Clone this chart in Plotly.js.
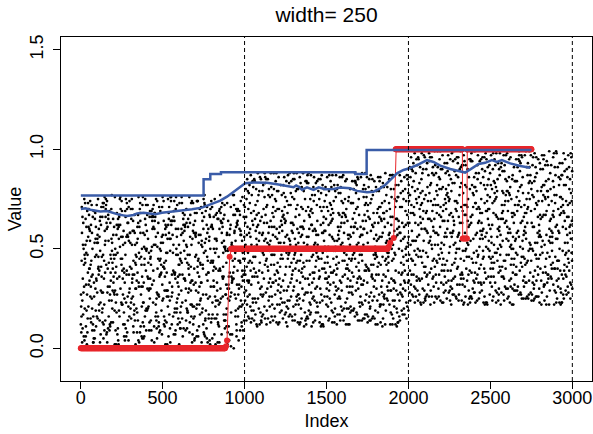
<!DOCTYPE html>
<html>
<head>
<meta charset="utf-8">
<script src="https://cdn.plot.ly/plotly-3.0.1.min.js"></script>
<style>html,body{margin:0;padding:0;background:#fff}#chart{width:593px;height:434px}</style>
</head>
<body>
<div id="chart"></div>
<script>
// ---- Data: scatter values in hundredths, one table of 25 rows x 40 per segment (read column-wise) ----
const segmentStart = [0, 1000, 2000];
const tableRows = 25, tableCols = 40;
const seg1 = [
12,45,67,3,28,71,54,9,36,60,22,75,41,17,63,5,49,30,68,11,57,26,74,38,2,65,19,52,33,70,8,44,61,24,77,14,50,35,6,59,
27,73,40,16,55,1,66,31,47,10,69,23,58,37,4,72,20,46,64,13,53,29,76,7,42,62,18,34,56,0,48,25,71,15,39,67,32,51,9,74,
21,43,60,3,57,36,70,12,28,65,45,6,53,19,76,31,50,14,68,26,41,2,62,35,73,10,47,22,58,17,66,38,5,55,30,72,11,44,63,24,
8,52,34,69,15,46,75,27,61,4,39,56,20,67,33,13,59,42,1,71,25,48,64,9,37,54,18,74,29,43,7,60,23,50,68,14,36,77,32,57,
16,65,40,5,53,28,72,11,45,62,22,37,0,58,31,76,19,49,66,8,41,55,26,70,13,35,61,3,47,24,73,38,17,54,64,10,30,51,69,21,
44,6,59,33,75,18,42,63,27,2,56,39,70,14,48,23,67,9,52,36,74,29,12,60,45,1,65,34,20,57,77,15,43,68,25,50,4,38,62,31,
71,11,54,26,40,66,7,47,19,61,35,73,23,52,3,58,30,69,16,44,64,21,37,76,10,49,28,55,6,42,72,17,60,33,0,51,24,67,39,13,
58,32,74,9,46,20,63,38,2,55,27,70,15,43,61,5,36,66,22,50,12,75,31,47,18,59,40,7,68,25,53,1,44,29,71,14,57,35,64,11,
3,48,26,69,41,13,60,34,76,19,52,8,65,30,45,23,72,4,56,37,16,62,28,50,10,67,42,21,74,33,6,54,39,17,63,27,46,0,70,36,
24,61,15,53,37,73,8,45,29,66,12,57,40,2,68,33,20,51,75,9,43,26,64,18,48,35,1,59,22,71,14,56,31,65,7,49,38,77,16,54,
66,19,42,5,60,28,74,13,50,36,1,63,25,47,70,11,55,32,18,69,40,6,57,23,44,62,30,73,9,52,15,67,34,3,58,27,46,72,20,39,
10,54,31,65,22,47,3,70,38,16,59,26,75,42,8,51,35,64,14,45,29,68,0,56,21,61,37,12,74,33,49,4,66,24,53,17,60,41,27,76,
35,2,62,46,19,71,28,55,9,67,40,14,52,30,73,6,43,60,25,37,11,65,48,20,57,34,76,15,41,3,69,26,50,13,63,32,7,58,44,22,
52,27,13,68,39,5,61,24,47,75,18,56,33,1,64,42,21,70,10,49,36,58,16,72,29,45,8,62,38,54,19,66,31,12,73,43,26,59,4,48,
17,69,44,30,56,12,40,77,23,51,6,63,35,20,58,45,0,67,28,53,14,71,39,25,60,9,47,32,74,18,55,2,41,65,36,11,62,27,50,34,
63,8,36,55,14,73,31,49,2,62,38,21,70,46,11,57,29,66,5,42,60,17,52,33,76,24,13,58,44,68,27,50,7,39,61,20,71,45,30,9,
28,47,72,19,64,35,10,53,41,76,25,4,59,34,68,16,48,23,74,38,2,55,66,12,43,30,63,21,6,51,37,70,15,46,26,57,1,67,32,45,
50,15,25,61,3,44,67,20,57,30,12,71,37,53,27,65,9,39,51,19,62,33,7,47,73,14,56,40,28,64,10,43,75,22,35,58,18,48,69,5,
6,38,58,11,49,22,65,43,18,70,33,54,26,8,46,75,30,61,40,1,57,24,69,36,15,52,67,4,45,20,62,31,55,11,41,73,28,16,60,37,
42,73,20,35,66,9,54,29,62,45,4,37,64,18,31,50,13,72,27,56,44,10,38,60,23,70,33,16,53,42,5,61,26,69,48,2,36,54,21,66,
31,56,9,47,23,76,16,40,68,1,53,28,11,61,42,19,66,34,58,7,29,49,74,15,37,63,22,5,57,40,71,13,48,3,65,30,52,19,44,72,
75,21,50,34,7,59,43,13,27,56,69,16,44,38,6,62,25,52,16,71,48,3,64,31,58,20,41,68,11,27,46,74,21,60,36,8,53,25,67,14,
4,61,37,72,29,52,1,65,35,23,47,74,8,55,21,39,69,11,45,32,61,76,18,42,6,51,29,64,36,12,58,44,2,70,17,49,33,61,9,56,
47,32,66,16,62,38,24,57,7,42,66,30,59,14,50,72,35,3,63,24,13,55,37,27,68,10,73,46,22,60,34,15,67,40,54,25,7,70,43,28,
20,70,12,53,41,14,69,33,48,74,10,58,22,67,36,9,45,60,27,76,38,64,20,52,1,43,16,57,31,75,3,62,40,23,51,64,34,12,57,39];
const seg2 = [
45,78,23,61,14,86,52,33,70,19,64,41,88,27,57,12,75,38,49,82,30,67,16,55,73,25,44,84,36,60,13,79,47,21,68,39,87,29,58,17,
71,34,62,11,50,83,26,66,43,77,18,54,31,80,40,15,69,24,85,48,35,72,20,59,87,42,28,63,14,76,53,37,81,22,65,46,12,74,32,56,
24,58,81,36,13,67,49,88,29,62,41,17,75,53,30,84,22,60,45,12,71,38,79,26,51,64,19,83,47,34,72,15,57,86,27,43,66,20,78,39,
63,15,46,74,31,55,21,80,38,69,13,52,85,27,61,44,18,77,35,58,86,23,49,67,14,40,73,29,56,82,16,62,37,71,25,48,87,11,54,33,
37,82,19,50,66,28,76,42,12,59,84,33,47,22,70,56,87,14,39,63,26,81,51,17,68,35,45,78,21,60,40,85,30,13,74,57,24,65,43,80,
52,27,69,88,16,44,35,61,79,23,48,72,14,58,36,83,28,53,75,11,46,64,31,86,20,57,38,70,49,15,66,24,79,42,61,33,52,18,84,29,
18,73,40,25,57,85,13,47,32,66,21,78,55,39,88,16,62,30,50,71,43,19,76,34,58,12,84,41,26,67,81,35,54,22,44,73,15,60,37,69,
80,44,14,62,38,71,54,20,86,45,29,63,17,81,24,52,70,41,13,66,33,56,87,25,48,74,31,18,61,39,23,77,46,65,12,85,34,57,27,50,
29,60,85,33,79,12,64,37,53,15,74,26,48,67,43,87,11,59,36,80,21,70,42,14,63,55,27,82,35,72,50,16,68,31,88,22,45,76,19,62,
66,21,51,77,26,45,88,16,70,34,57,84,40,12,60,28,46,83,23,54,69,13,37,78,44,20,65,52,86,17,39,61,24,81,49,58,30,13,71,47,
14,56,36,68,48,19,31,75,58,82,11,43,66,25,79,35,62,18,71,40,51,87,29,61,16,76,47,33,57,24,85,42,12,64,36,55,80,27,49,74,
75,39,84,20,58,63,42,27,13,49,68,35,22,86,53,15,77,44,30,59,14,65,46,81,37,28,73,17,50,88,26,68,41,56,19,70,34,13,63,23,
41,87,25,54,17,72,81,56,35,67,24,59,79,44,11,71,33,57,85,26,62,38,12,52,75,45,19,60,32,80,14,47,70,28,53,87,21,76,38,15,
57,13,65,39,82,30,47,69,22,78,45,16,52,33,64,83,25,48,16,74,36,55,80,21,67,39,58,86,23,42,65,31,18,73,45,12,59,82,26,51,
22,68,46,79,27,53,16,84,61,29,87,37,70,13,41,56,68,23,62,43,79,18,54,33,84,12,36,71,47,64,20,55,86,34,77,29,48,64,17,87,
85,32,17,58,70,41,61,34,18,53,20,76,43,61,27,88,38,72,11,51,29,68,40,63,23,57,80,35,14,73,50,26,63,11,42,66,24,38,79,44,
34,52,72,12,47,85,26,74,41,86,31,63,26,83,50,19,59,31,78,35,87,45,17,74,49,31,61,14,88,39,21,84,55,46,69,18,75,50,30,67,
61,19,59,43,35,15,77,50,28,65,47,14,88,56,18,67,47,84,27,59,15,33,82,29,66,52,20,85,44,27,73,15,37,58,25,80,33,61,55,21,
26,77,38,86,63,39,22,88,53,23,72,58,34,20,75,32,13,64,45,81,57,74,25,66,12,80,48,30,57,76,14,63,43,83,54,29,71,16,46,85,
79,43,23,30,54,77,68,13,45,71,16,39,80,47,35,60,81,21,69,38,25,49,61,86,40,18,68,53,22,41,87,34,79,15,31,62,47,24,75,37,
48,15,80,64,21,58,33,60,82,17,55,85,24,71,14,44,26,52,87,16,73,39,57,19,70,34,84,43,64,17,59,45,27,68,81,35,12,58,42,63,
16,64,55,18,76,24,47,39,25,63,83,29,60,38,84,23,74,46,12,65,41,82,30,53,47,21,61,75,32,86,28,51,71,22,48,76,39,87,20,53,
70,36,12,49,88,33,57,79,64,37,48,21,72,15,51,66,35,18,58,77,32,13,68,44,85,56,16,39,80,58,42,19,66,37,24,50,82,14,61,33,
43,84,67,27,42,80,14,55,31,76,24,62,44,81,28,37,86,57,40,22,63,54,78,36,20,73,45,67,15,33,75,48,84,26,63,17,56,71,34,78,
33,25,52,85,15,61,71,22,47,56,88,45,13,61,69,17,52,79,24,49,84,27,43,68,31,61,88,23,52,69,36,12,56,81,29,44,65,28,86,19];
const seg3 = [
56,89,34,72,25,98,61,43,80,29,75,52,93,38,67,23,86,47,59,95,40,78,27,65,84,35,54,97,46,70,24,91,57,31,79,49,99,39,68,28,
82,44,73,22,60,94,36,77,53,88,29,64,41,92,50,26,81,33,96,58,45,83,30,69,98,52,37,74,25,87,63,47,93,32,76,56,23,85,42,66,
34,68,92,46,24,78,59,99,39,73,51,27,86,63,40,95,33,71,55,23,82,48,90,36,61,75,29,94,57,44,83,26,67,97,37,53,77,30,89,49,
74,26,56,85,41,65,31,91,48,80,24,62,96,37,72,54,28,88,45,69,97,33,59,78,25,50,84,39,66,93,27,73,47,82,35,58,98,22,64,43,
47,93,29,60,77,38,87,52,23,70,95,43,57,32,81,66,99,25,49,74,36,92,61,27,79,45,55,89,31,71,50,96,40,24,85,67,34,76,53,91,
63,37,80,98,26,54,45,72,90,33,58,83,24,69,46,94,38,64,86,22,56,75,41,97,30,68,48,81,59,25,77,34,90,52,72,43,62,28,95,39,
28,84,50,35,68,96,23,57,42,77,31,89,66,49,99,26,73,40,60,82,53,29,87,44,69,22,95,51,36,78,92,45,65,32,54,84,25,71,47,80,
91,54,24,73,48,82,65,30,97,56,39,74,27,92,34,63,81,51,23,77,43,67,98,35,58,85,41,28,72,49,33,88,56,76,22,96,44,68,37,61,
39,71,96,43,90,22,75,47,64,25,85,36,58,78,53,98,23,70,46,91,31,81,52,24,74,66,37,93,45,83,61,26,79,41,99,32,55,87,29,73,
77,31,62,88,36,56,99,26,81,44,68,95,50,22,71,38,57,94,33,65,80,23,47,89,54,30,76,63,97,27,49,72,34,92,60,69,40,23,82,58,
24,67,46,79,59,29,41,86,69,93,22,53,77,35,90,45,73,28,82,50,62,98,39,72,26,87,58,43,68,34,96,53,22,75,46,66,91,37,60,85,
86,49,95,30,69,74,52,37,23,60,79,45,32,97,64,25,88,55,40,70,24,76,57,92,47,38,84,27,61,99,36,79,51,67,29,81,44,23,74,33,
52,98,35,65,27,83,92,67,45,78,34,70,90,55,22,82,43,68,96,36,73,48,22,63,86,56,29,71,42,91,24,58,81,38,64,98,31,87,48,25,
68,23,76,49,93,40,58,80,32,89,56,26,63,44,75,94,35,59,26,85,46,66,91,31,78,50,69,97,33,53,76,41,28,84,56,22,70,93,36,62,
32,79,57,90,37,64,26,95,72,39,98,48,81,23,52,67,79,33,73,54,90,28,65,44,95,22,47,82,58,75,30,66,97,45,88,40,59,75,27,98,
96,42,27,69,81,52,72,45,28,64,30,87,54,72,37,99,49,83,22,62,40,79,51,74,34,68,91,46,25,84,61,37,74,22,53,77,35,49,90,55,
45,63,83,23,58,96,37,85,52,97,42,74,37,94,61,30,70,42,89,46,98,56,28,85,60,42,72,25,99,50,32,95,66,57,80,29,86,61,41,78,
72,30,70,54,46,26,88,61,39,76,58,25,99,67,29,78,58,95,38,70,26,44,93,40,77,63,31,96,55,38,84,26,48,69,36,91,44,72,66,32,
37,88,49,97,74,50,33,99,64,34,83,69,45,31,86,43,24,75,56,92,68,85,36,77,23,91,59,41,68,87,25,74,54,94,65,40,82,27,57,96,
90,54,34,41,65,88,79,24,56,82,27,50,91,58,46,71,92,32,80,49,36,60,72,97,51,29,79,64,33,52,98,45,90,26,42,73,58,35,86,48,
59,26,91,75,32,69,44,71,93,28,66,96,35,82,25,55,37,63,98,27,84,50,68,30,81,45,95,54,75,28,70,56,38,79,92,46,23,69,53,74,
27,75,66,29,87,35,58,50,36,74,94,40,71,49,95,34,85,57,23,76,52,93,41,64,58,32,72,86,43,97,39,62,82,33,59,87,50,98,31,64,
81,47,23,60,99,44,68,90,75,48,59,32,83,26,62,77,46,29,69,88,43,24,79,55,96,67,27,50,91,69,53,30,77,48,35,61,93,25,72,44,
54,95,78,38,53,91,25,66,42,87,35,73,55,92,39,48,97,68,51,33,74,65,89,47,31,84,56,78,26,44,86,59,95,37,74,28,67,82,45,89,
44,36,63,96,26,72,82,33,58,67,99,56,24,72,80,28,63,90,35,60,95,38,54,79,42,72,99,34,63,80,47,23,67,92,40,55,76,39,97,30];

// Red estimate: constant runs plus transition points
const redRunFrom = [1, 918, 1922, 2359];
const redRunTo   = [880, 1872, 2329, 2750];
const redRunVal  = [0, 0.5, 1.0, 1.0];
const redStepX = [887, 893, 909, 1880, 1889, 1910, 2331, 2337, 2344, 2351, 2357];
const redStepY = [0.01, 0.04, 0.46, 0.51, 0.53, 0.554, 0.552, 0.552, 0.552, 0.552, 0.552];

// Upper blue line (step)
const upX = [1, 750, 791, 856, 1676, 1745, 2750];
const upY = [0.768, 0.849, 0.876, 0.884, 0.876, 0.997, 0.997];

// Lower blue line
const loX = [1,29,59,90,120,161,201,232,260,283,323,344,384,420,456,496,557,618,679,740,791,852,893,933,974,1004,1055,1137,1198,1259,1299,1315,1330,1350,1381,1421,1452,1492,1543,1584,1645,1686,1747,1787,1828,1858,1899,1930,1970,2011,2062,2113,2153,2194,2255,2316,2346,2387,2428,2468,2509,2540,2570,2621,2682,2743];
const loY = [0.70,0.704,0.696,0.69,0.687,0.69,0.679,0.672,0.668,0.665,0.67,0.678,0.681,0.676,0.674,0.681,0.686,0.692,0.699,0.707,0.724,0.742,0.762,0.787,0.812,0.829,0.833,0.832,0.824,0.816,0.809,0.818,0.812,0.797,0.809,0.796,0.809,0.799,0.800,0.808,0.804,0.791,0.784,0.787,0.804,0.821,0.854,0.879,0.896,0.906,0.924,0.946,0.936,0.918,0.901,0.888,0.883,0.904,0.926,0.932,0.946,0.937,0.946,0.929,0.916,0.907];

const breakpoints = [1000, 2000, 3000];
const xTicks = [0, 500, 1000, 1500, 2000, 2500, 3000];
const yTicks = [0, 0.5, 1.0, 1.5];
const yTickText = ['0.0', '0.5', '1.0', '1.5'];

// ---- Build traces ----
const px = [], py = [];
[seg1, seg2, seg3].forEach((arr, k) => arr.forEach((v, j) => {
  const r = Math.floor(j / tableCols), c = j % tableCols;   // table cell -> index within segment
  px.push(segmentStart[k] + c * tableRows + r + 1); py.push(v / 100);
}));

const redPts = [];
redRunFrom.forEach((f, k) => { for (let i = f; i <= redRunTo[k]; i += 3) redPts.push([i, redRunVal[k]]); redPts.push([redRunTo[k], redRunVal[k]]); });
redStepX.forEach((x, k) => redPts.push([x, redStepY[k]]));
redPts.sort((a, b) => a[0] - b[0]);

const FONT = 'Liberation Sans, Arial, Helvetica, sans-serif';
const blue = '#3a5ca8', red = '#e8262b';

const traces = [
  {x: px, y: py, type: 'scatter', mode: 'markers', marker: {size: 2.7, color: '#000'}, hoverinfo: 'skip'},
  {x: redPts.map(p => p[0]), y: redPts.map(p => p[1]), type: 'scatter', mode: 'lines+markers',
   line: {color: red, width: 1}, marker: {size: 6, color: red}},
  {x: upX, y: upY, type: 'scatter', mode: 'lines', line: {color: blue, width: 2.5, shape: 'hv'}},
  {x: loX, y: loY, type: 'scatter', mode: 'lines', line: {color: blue, width: 2.5}}
];

const layout = {
  width: 593, height: 434,
  margin: {l: 61, r: 1, t: 37, b: 53, pad: 0},
  paper_bgcolor: '#fff', plot_bgcolor: '#fff',
  showlegend: false,
  font: {family: FONT, color: '#000', size: 18},
  title: {text: 'width= 250', font: {family: FONT, size: 21, color: '#000'}, x: 0.5, xref: 'paper', y: 1 - 15/434, yref: 'container', yanchor: 'middle'},
  xaxis: {range: [-120, 3120], tickvals: xTicks, ticktext: xTicks.map(String), ticks: 'outside', ticklen: 7, tickcolor: '#000',
          showline: true, mirror: true, linecolor: '#000', linewidth: 1, showgrid: false, zeroline: false, ticklabelstandoff: -7,
          tickfont: {size: 18}, title: {text: 'Index', font: {size: 18}, standoff: 7}, automargin: false},
  yaxis: {range: [-0.164, 1.564], tickvals: yTicks, ticktext: yTickText, tickangle: -90, ticks: 'outside', ticklen: 7, tickcolor: '#000',
          showline: true, mirror: true, linecolor: '#000', linewidth: 1, showgrid: false, zeroline: false, ticklabelstandoff: 3,
          tickfont: {size: 18}, title: {text: 'Value', font: {size: 18}, standoff: 0}, automargin: false},
  shapes: breakpoints.map(b => ({type: 'line', xref: 'x', yref: 'paper', x0: b, x1: b, y0: 0, y1: 1,
          line: {color: '#000', width: 1, dash: '4px,3px'}}))
};

Plotly.newPlot('chart', traces, layout, {displayModeBar: false, staticPlot: true});
</script>
</body>
</html>
